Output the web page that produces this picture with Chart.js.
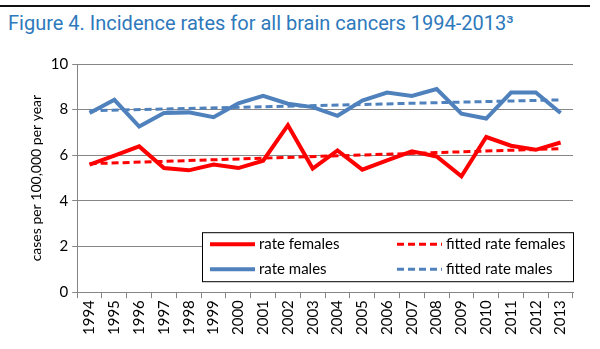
<!DOCTYPE html>
<html lang="en">
<head>
  <meta charset="UTF-8">
  <title>Incidence rates for all brain cancers</title>
  <script src="https://cdn.jsdelivr.net/npm/chart.js"></script>
  <style>
    body { margin: 0; background: #fff; }
    #wrap { position: relative; width: 600px; height: 349px; overflow: hidden; }
    #rule { position: absolute; left: 0; top: 5px; width: 590px; height: 2px; background: #111; }
    #heading { position: absolute; left: 8px; top: 11px; font-family: "Liberation Sans Narrow", "Roboto", sans-serif; font-size: 20px; color: #2e79bc; white-space: nowrap; }
    #chart { position: absolute; left: 0; top: 0; }
  </style>
</head>
<body>
  <div id="wrap">
    <div id="rule"></div>
    <div id="heading">Figure 4. Incidence rates for all brain cancers 1994-2013³</div>
    <canvas id="chart" width="600" height="349"></canvas>
  </div>

  <script>
    const years = ['1994','1995','1996','1997','1998','1999','2000','2001','2002','2003',
                   '2004','2005','2006','2007','2008','2009','2010','2011','2012','2013'];
    const rateFemales = [5.59, 5.98, 6.39, 5.44, 5.34, 5.59, 5.44, 5.76, 7.32, 5.42,
                         6.21, 5.37, 5.78, 6.17, 5.95, 5.08, 6.80, 6.42, 6.24, 6.56];
    const rateMales = [7.85, 8.43, 7.26, 7.85, 7.88, 7.67, 8.28, 8.60, 8.26, 8.11,
                       7.73, 8.40, 8.75, 8.60, 8.90, 7.82, 7.61, 8.75, 8.75, 7.85];
    // trend lines: first and last year only, joined straight across
    const fittedFemales = [5.63, null, null, null, null, null, null, null, null, null,
                           null, null, null, null, null, null, null, null, null, 6.29];
    const fittedMales = [7.95, null, null, null, null, null, null, null, null, null,
                         null, null, null, null, null, null, null, null, null, 8.43];
    const yTicks = [0, 2, 4, 6, 8, 10];

    const RED = '#ff0000';
    const BLUE = '#4f81bd';
    const FONT = 'Lato, "Open Sans", sans-serif';

    // legend drawn as a framed box inside the plot, two columns
    const boxLegend = {
      id: 'boxLegend',
      afterDraw(chart) {
        const ctx = chart.ctx;
        const a = chart.chartArea;
        const w = 371, h = 49;
        const x0 = a.right - w, y0 = a.bottom - 11 - h;
        ctx.save();
        ctx.fillStyle = '#fff';
        ctx.fillRect(x0, y0, w, h);
        ctx.strokeStyle = '#000';
        ctx.lineWidth = 1;
        ctx.strokeRect(x0 + 0.5, y0 + 0.5, w, h);
        ctx.font = '15px ' + FONT;
        ctx.textBaseline = 'middle';
        ctx.fillStyle = '#000';
        chart.data.datasets.forEach((ds, i) => {
          const col = i % 2, row = Math.floor(i / 2);
          const lx = x0 + 8 + col * 187;
          const ly = y0 + 12 + row * 25;
          ctx.beginPath();
          ctx.strokeStyle = ds.borderColor;
          ctx.lineWidth = ds.borderWidth;
          ctx.setLineDash(ds.borderDash || []);
          ctx.moveTo(lx, ly);
          ctx.lineTo(lx + 45, ly);
          ctx.stroke();
          ctx.setLineDash([]);
          ctx.fillText(ds.label, lx + 49, ly);
        });
        ctx.restore();
      }
    };

    new Chart(document.getElementById('chart'), {
      type: 'line',
      data: {
        labels: years,
        datasets: [
          { label: 'rate females', data: rateFemales, borderColor: RED, borderWidth: 4, order: 2 },
          { label: 'fitted rate females', data: fittedFemales, borderColor: RED, borderWidth: 3, borderDash: [7, 4], spanGaps: true, order: 1 },
          { label: 'rate males', data: rateMales, borderColor: BLUE, borderWidth: 4, order: 2 },
          { label: 'fitted rate males', data: fittedMales, borderColor: BLUE, borderWidth: 3, borderDash: [7, 4], spanGaps: true, order: 1 }
        ]
      },
      options: {
        responsive: false,
        animation: false,
        layout: { padding: { top: 64, right: 27, left: 28, bottom: 12 } },
        elements: { point: { radius: 0 }, line: { tension: 0, borderCapStyle: 'butt' } },
        plugins: { legend: { display: false }, tooltip: { enabled: false } },
        scales: {
          x: {
            offset: true,
            grid: { drawOnChartArea: false, color: '#868686', tickLength: 6, offset: true },
            border: { color: '#868686' },
            ticks: { color: '#000', font: { family: FONT, size: 15 }, minRotation: 90, maxRotation: 90, padding: 2 },
          },
          y: {
            min: 0, max: 10,
            afterBuildTicks: axis => { axis.ticks = yTicks.map(v => ({ value: v })); },
            grid: { color: '#868686', tickLength: 5 },
            border: { color: '#868686' },
            ticks: { color: '#000', font: { family: FONT, size: 15 }, padding: 4 },
            title: { display: true, text: 'cases per 100,000 per year', color: '#000', font: { family: FONT, size: 14 }, padding: { top: 0, bottom: 2 } }
          }
        }
      },
      plugins: [boxLegend]
    });
  </script>
</body>
</html>
